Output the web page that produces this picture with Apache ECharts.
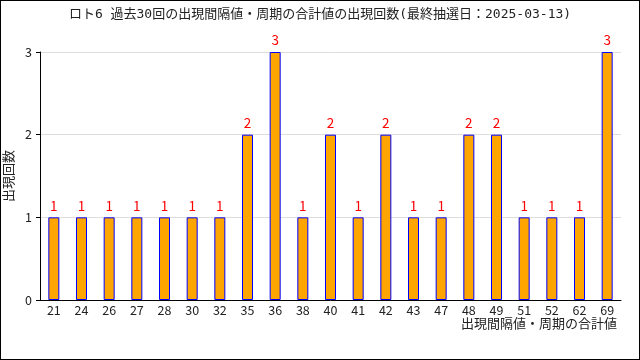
<!DOCTYPE html>
<html><head><meta charset="utf-8">
<script src="https://cdn.jsdelivr.net/npm/echarts@6/dist/echarts.min.js"></script>
<style>html,body{margin:0;padding:0;background:#fff}#c{width:638px;height:358px;border:1px solid #000}</style>
</head><body><div id="c"></div>
<script>
const titleText = 'ロト6 過去30回の出現間隔値・周期の合計値の出現回数(最終抽選日：2025-03-13)';
const categories = ['21','24','26','27','28','30','32','35','36','38','40','41','42','43','47','48','49','51','52','62','69'];
const counts = [1,1,1,1,1,1,1,2,3,1,2,1,2,1,1,2,2,1,1,1,3];
const yTicks = [0,1,2,3];
const mono = '"DejaVu Sans Mono", "Noto Sans CJK JP", monospace';
const font = '"Noto Sans CJK JP", sans-serif';
const chart = echarts.init(document.getElementById('c'), null, {renderer:'canvas'});
chart.setOption({
  animation:false,
  title:{text:titleText,left:'center',top:2,textStyle:{fontFamily:mono,fontSize:13,fontWeight:'normal',color:'#222'}},
  grid:{left:39,right:18,top:51,bottom:59,outerBoundsMode:'none',containLabel:false},
  xAxis:{type:'category',data:categories,
    name:'出現間隔値・周期の合計値',nameLocation:'end',nameGap:0,
    nameTextStyle:{fontFamily:font,fontSize:13,color:'#222',align:'right',verticalAlign:'top',padding:[17,4,0,0]},
    axisLine:{lineStyle:{color:'#000'}},
    axisTick:{inside:true,length:4,lineStyle:{color:'#000'}},
    axisLabel:{fontFamily:font,fontSize:12.5,color:'#222',margin:4}},
  yAxis:{type:'value',min:0,max:yTicks[yTicks.length-1],interval:1,
    name:'出現回数',nameLocation:'middle',nameGap:23,nameRotate:90,
    nameTextStyle:{fontFamily:font,fontSize:13,color:'#222'},
    axisLine:{show:true,lineStyle:{color:'#000'}},
    axisTick:{show:true,length:4,lineStyle:{color:'#000'}},
    axisLabel:{fontFamily:font,fontSize:12.5,color:'#222',margin:8},
    splitLine:{lineStyle:{color:'#ddd'}}},
  series:[{type:'bar',data:counts,barWidth:11,
    itemStyle:{color:'#FFA500',borderColor:'#0000FF',borderWidth:1},
    label:{show:true,position:'top',distance:5,color:'#FF0000',fontFamily:font,fontSize:13.5}}]
});
</script></body></html>
